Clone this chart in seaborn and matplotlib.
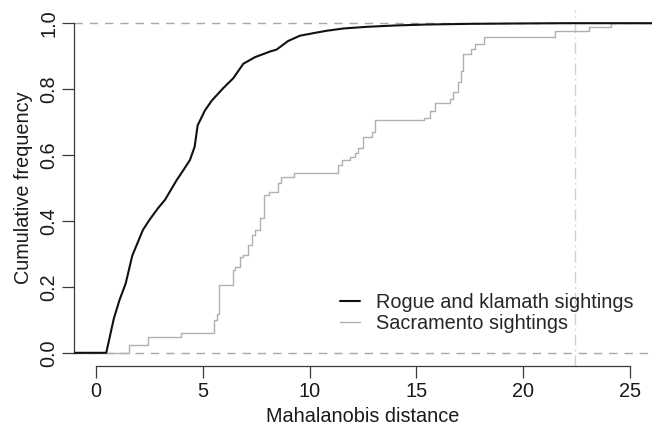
import numpy as np
import pandas as pd
import matplotlib
matplotlib.use("Agg")
import matplotlib.pyplot as plt
import seaborn as sns

# Rogue and Klamath sightings: cumulative curve
rk_dist = [0.48, 0.84, 1.10, 1.39, 1.70, 2.20, 2.50, 2.92, 3.23, 3.78, 4.10,
           4.40, 4.62, 4.76, 5.10, 5.42, 5.96, 6.43, 6.90, 7.45, 8.15, 8.46,
           9.00, 9.55, 10.2, 10.8, 11.6, 12.7, 14.0, 15.5, 17.5, 19.5, 22.0]
rk_cum = [0.0, 0.105, 0.160, 0.210, 0.295, 0.373, 0.403, 0.440, 0.464, 0.524,
          0.555, 0.585, 0.625, 0.690, 0.735, 0.765, 0.803, 0.833, 0.877, 0.897,
          0.914, 0.920, 0.946, 0.962, 0.970, 0.977, 0.984, 0.989, 0.993, 0.996,
          0.998, 0.999, 1.0]

# Sacramento sightings: jump positions and level after each jump
sac_dist = [1.55, 2.44, 4.00, 5.55, 5.65, 5.77, 6.40, 6.51, 6.74, 6.87, 7.13,
            7.29, 7.45, 7.68, 7.87, 8.10, 8.54, 8.67, 9.27, 11.35, 11.51,
            11.90, 12.13, 12.29, 12.49, 12.91, 13.07, 15.36, 15.62, 15.90,
            16.58, 16.70, 16.94, 17.10, 17.19, 17.56, 17.73, 18.17, 21.50,
            23.10, 24.10]
sac_cum = [0.024, 0.048, 0.060, 0.100, 0.118, 0.206, 0.250, 0.260, 0.292,
           0.297, 0.327, 0.358, 0.373, 0.408, 0.479, 0.489, 0.514, 0.534,
           0.545, 0.570, 0.585, 0.595, 0.605, 0.620, 0.655, 0.671, 0.706,
           0.712, 0.735, 0.758, 0.770, 0.790, 0.823, 0.855, 0.906, 0.921,
           0.936, 0.957, 0.977, 0.988, 1.0]

cutoff = 22.45
x_ticks = [0, 5, 10, 15, 20, 25]
y_ticks = [0.0, 0.2, 0.4, 0.6, 0.8, 1.0]

sns.set_theme(style="white")
plt.rcParams['font.family'] = ['Liberation Sans', 'DejaVu Sans']
FS = 14.3
axcol = "#3a3a3a"

fig = plt.figure(figsize=(6.52, 4.28), dpi=100)
# plot region: x 74..652 px, y 10..366 px (from top)
ax = fig.add_axes([74 / 652, 62 / 428, 578 / 652, 356 / 428])
xmin, xmax = -1.03, 26.04
ax.set_xlim(xmin, xmax)
ax.set_ylim(-0.04, 1.04)

ax.axhline(0, color="#a8a8a8", lw=1.0, ls=(0, (6, 5)), zorder=1)
ax.axhline(1, color="#a8a8a8", lw=1.0, ls=(0, (6, 5)), zorder=1)
ax.axvline(cutoff, color="#d0d0d0", lw=1.0, ls=(0, (8, 3, 1, 3)), zorder=1)

rk = pd.DataFrame({"d": [xmin] + rk_dist + [xmax], "F": [0.0] + rk_cum + [1.0]})
sac = pd.DataFrame({"d": [xmin] + sac_dist + [xmax], "F": [0.0] + sac_cum + [1.0]})

sns.lineplot(data=sac, x="d", y="F", ax=ax, color="#b0b0b0", lw=1.0,
             estimator=None, drawstyle="steps-post",
             label="Sacramento sightings", zorder=2)
sns.lineplot(data=rk, x="d", y="F", ax=ax, color="#111111", lw=1.5,
             estimator=None, label="Rogue and klamath sightings", zorder=3)

for s in ["top", "right"]:
    ax.spines[s].set_visible(False)
ax.spines["left"].set_bounds(0, 1)
ax.spines["bottom"].set_bounds(0, 25)
for s in ["left", "bottom"]:
    ax.spines[s].set_color(axcol)
    ax.spines[s].set_linewidth(0.9)

ax.set_xticks(x_ticks)
ax.set_xticklabels([str(t) for t in x_ticks])
ax.set_yticks(y_ticks)
ax.set_yticklabels([f"{t:.1f}" for t in y_ticks], rotation=90, va="center")
ax.tick_params(axis="both", direction="out", length=8.5, width=0.9,
               color=axcol, labelsize=FS, labelcolor="#1a1a1a", pad=3,
               left=True, bottom=True)
ax.set_xlabel("Mahalanobis distance", fontsize=FS, color="#1a1a1a", labelpad=4)
ax.set_ylabel("Cumulative frequency", fontsize=FS, color="#1a1a1a", labelpad=4)

h, l = ax.get_legend_handles_labels()
ax.legend(h[::-1], l[::-1], loc="upper left",
          bbox_to_anchor=(340 / 652, 1 - 293 / 428), bbox_transform=fig.transFigure,
          frameon=False, fontsize=FS, borderpad=0, borderaxespad=0,
          handlelength=1.0, handletextpad=0.8, labelspacing=0.08)

fig.savefig("out.png", dpi=100)
